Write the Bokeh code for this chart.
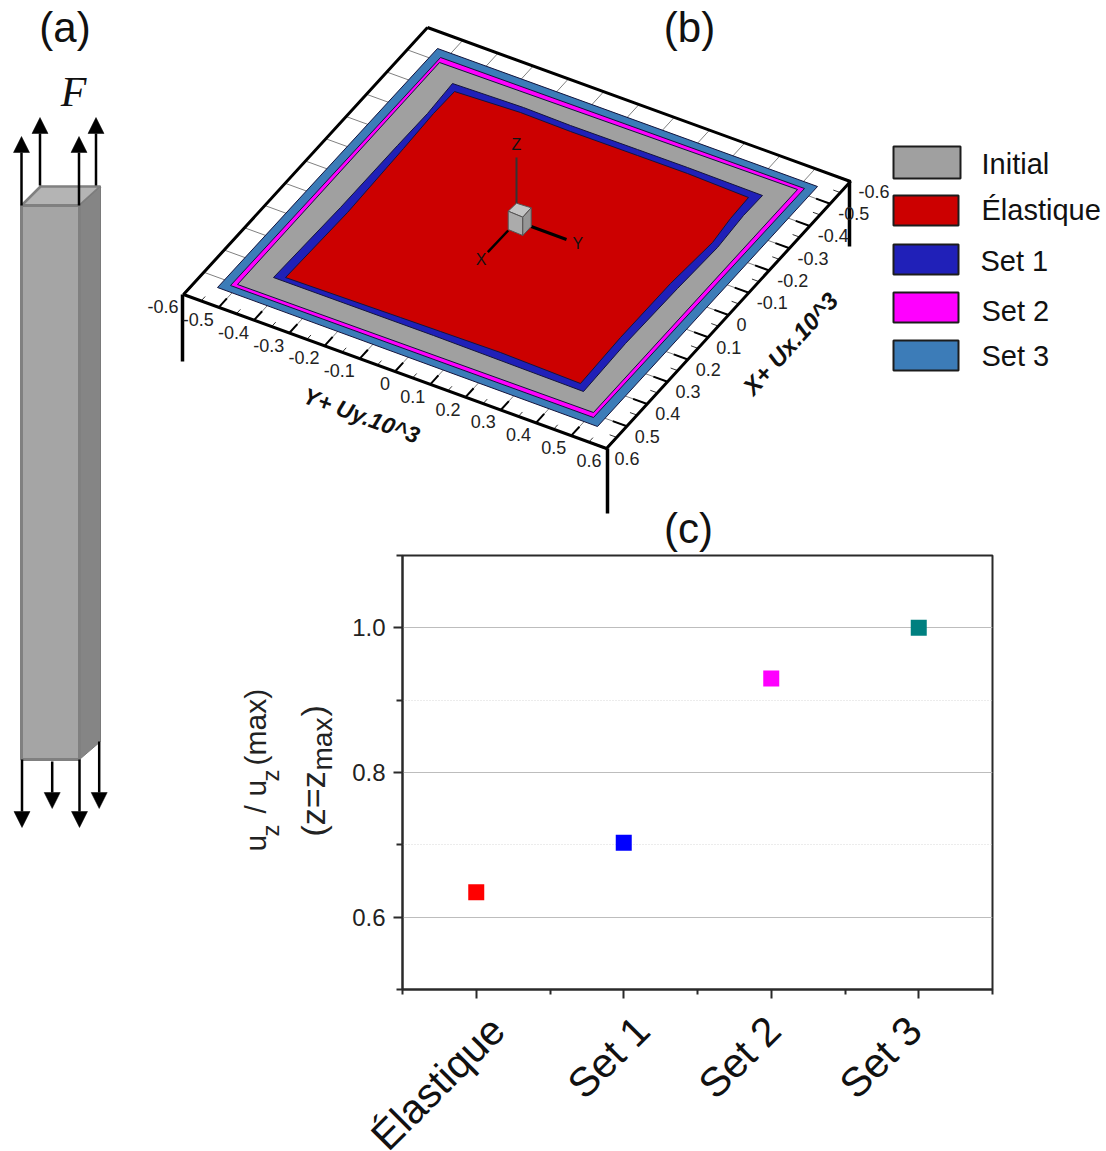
from bokeh.plotting import figure
from bokeh.models import Range1d, FixedTicker, NumeralTickFormatter
from bokeh.core.properties import value
from bokeh.embed import file_html
from bokeh.resources import INLINE

SANS = "Liberation Sans"

# ---------- panel (c) data ----------
categories = ["Élastique", "Set 1", "Set 2", "Set 3"]
cat_pos = [1, 2, 3, 4]
uz_ratio = [0.6345, 0.703, 0.93, 1.0]
marker_colors = ["#ff0000", "#0000ff", "#ff00ff", "#008080"]
y_major = [0.6, 0.8, 1.0]
y_minor = [0.5, 0.7, 0.9, 1.1]
x_minor = [0.5, 1.5, 2.5, 3.5, 4.5]
cat_label_x_px = [497, 642, 773, 914]
ylabel_pieces = [
    ("u", 268, 851, 30), ("z", 280, 836, 24), ("/", 268, 813, 30),
    ("u", 268, 796, 30), ("z", 280, 781, 24), ("(max)", 268, 765, 30),
    ("(z=z", 327, 836, 34), ("max", 334, 770, 28), (")", 327, 716, 34),
]

# ---------- panel (b) data ----------
tick_values = [-0.6, -0.5, -0.4, -0.3, -0.2, -0.1, 0, 0.1, 0.2, 0.3, 0.4, 0.5, 0.6]
tick_labels = ["-0.6", "-0.5", "-0.4", "-0.3", "-0.2", "-0.1", "0", "0.1", "0.2", "0.3", "0.4", "0.5", "0.6"]
minor_values = [-0.55, -0.45, -0.35, -0.25, -0.15, -0.05, 0.05, 0.15, 0.25, 0.35, 0.45, 0.55]
poly_names = ["Set 3", "Set 2", "Initial", "Set 1", "Élastique"]
poly_colors = ["#3c7cb8", "#ff00ff", "#a0a0a0", "#2020b8", "#cc0000"]
poly_x = [
    [217, 437, 817, 597],
    [230, 440, 804, 593],
    [237, 439, 797, 593],
    [273, 340, 397, 427, 452, 523, 570, 637, 687, 762, 743, 717, 677, 625, 583, 433],
    [285, 347, 403, 433, 454, 520, 570, 637, 687, 748, 730, 712, 670, 620, 580, 500, 440, 400],
]
poly_y = [
    [287, 48, 186, 426],
    [285, 57, 188, 417],
    [284, 62, 189, 412],
    [277, 207, 145, 113, 83, 107, 125, 149, 167, 195, 215, 247, 288, 343, 391, 335],
    [277, 212, 148, 113, 91, 112, 131, 155, 173, 197, 218, 242, 283, 337, 383, 352, 331, 317],
]
legend_names = ["Initial", "Élastique", "Set 1", "Set 2", "Set 3"]
legend_colors = ["#a0a0a0", "#cc0000", "#2020b8", "#ff00ff", "#3c7cb8"]

# projection of the floor (ux, uy in units of 10^-3) onto the picture
CX, CY = 516.5, 237.5
AX, AY = -203.3, 222.5
BX, BY = 352.5, 128.3
def px(ux, uy):
    return CX + AX * ux + BX * uy
def py(ux, uy):
    return CY + AY * ux + BY * uy

# page-wide figure in picture pixels: panels (a), (b) and all free-standing text
b = figure(width=1106, height=1151, x_range=Range1d(0, 1106), y_range=Range1d(1151, 0),
           output_backend="svg", toolbar_location=None, min_border=0)
b.axis.visible = False
b.grid.visible = False
b.outline_line_color = None
b.styles = {"position": "absolute", "left": "0px", "top": "0px"}

# ---------- panel (a) ----------
b.patch([21, 40, 100, 79], [205, 186, 186, 205], fill_color="#b4b4b4", line_color="#808080", line_width=2.5)
b.patch([79, 100, 100, 79], [205, 186, 741, 759], fill_color="#858585", line_color="#7a7a7a", line_width=1)
b.patch([21, 79, 79, 21], [205, 205, 759, 759], fill_color="#a5a5a5", line_color="#808080", line_width=3)

arrow_x = [21, 39.5, 78.5, 95.5, 21.5, 51.7, 79, 98.7]
arrow_from = [205, 185, 205, 185, 759, 761, 759, 741]
arrow_tip = [136, 117, 136, 117, 827, 808, 827, 808]
for x, s, t in zip(arrow_x, arrow_from, arrow_tip):
    d = 16 if t < s else -16
    b.line([x, x], [s, t + d], line_color="black", line_width=2.5)
    b.patch([x - 8, x, x + 8], [t + d, t, t + d], fill_color="black", line_color="black", line_width=0.5)
b.text([64.5], [27], text=["(a)"], text_font=value(SANS), text_font_size="42px",
       text_align="center", text_baseline="middle", text_color="#111111")
b.text([73], [91], text=["F"], text_font=value("Liberation Serif"), text_font_style="italic",
       text_font_size="42px", text_align="center", text_baseline="middle", text_color="#111111")

# ---------- panel (b) ----------
E = 0.6
b.segment([px(-E, v) for v in tick_values], [py(-E, v) for v in tick_values],
          [px(E, v) for v in tick_values], [py(E, v) for v in tick_values], line_color="#808080", line_width=1)
b.segment([px(v, -E) for v in tick_values], [py(v, -E) for v in tick_values],
          [px(v, E) for v in tick_values], [py(v, E) for v in tick_values], line_color="#808080", line_width=1)
b.segment([px(E, v) for v in tick_values], [py(E, v) for v in tick_values],
          [px(E - 0.04, v) for v in tick_values], [py(E - 0.04, v) for v in tick_values],
          line_color="black", line_width=2)
b.segment([px(v, E) for v in tick_values], [py(v, E) for v in tick_values],
          [px(v, E - 0.04) for v in tick_values], [py(v, E - 0.04) for v in tick_values],
          line_color="black", line_width=2)
b.segment([px(E, v) for v in minor_values], [py(E, v) for v in minor_values],
          [px(E - 0.02, v) for v in minor_values], [py(E - 0.02, v) for v in minor_values],
          line_color="#333333", line_width=1)
b.segment([px(v, E) for v in minor_values], [py(v, E) for v in minor_values],
          [px(v, E - 0.02) for v in minor_values], [py(v, E - 0.02) for v in minor_values],
          line_color="#333333", line_width=1)
for xs, ys, col in zip(poly_x, poly_y, poly_colors):
    b.patch(xs, ys, fill_color=col, line_color="#14143c", line_width=1)
b.line([px(-E, -E), px(-E, E), px(E, E), px(E, -E), px(-E, -E)],
       [py(-E, -E), py(-E, E), py(E, E), py(E, -E), py(-E, -E)], line_color="black", line_width=3)
b.line([182, 182], [294, 361], line_color="black", line_width=3.5)
b.line([607, 607], [448, 513], line_color="black", line_width=3.5)
b.line([849, 849], [181, 246], line_color="black", line_width=3.5)

b.text([px(E, v) - 5 for v in tick_values], [py(E, v) + 12 for v in tick_values], text=tick_labels,
       text_font=value(SANS), text_font_size="18px", text_align="right", text_baseline="middle", text_color="#222222")
b.text([px(v, E) + 8 for v in tick_values], [py(v, E) + 10 for v in tick_values], text=tick_labels,
       text_font=value(SANS), text_font_size="18px", text_align="left", text_baseline="middle", text_color="#222222")
b.text([361], [415], text=["Y+ Uy.10^3"], angle=[-20], angle_units="deg", text_font=value(SANS),
       text_font_style="bold italic", text_font_size="23px", text_align="center", text_baseline="middle", text_color="#111111")
b.text([790], [343], text=["X+ Ux.10^3"], angle=[47.8], angle_units="deg", text_font=value(SANS),
       text_font_style="bold italic", text_font_size="24px", text_align="center", text_baseline="middle", text_color="#111111")

# orientation triad
b.line([516, 516], [157, 203], line_color="#333333", line_width=2)
b.line([507.7, 487.3], [230, 251.7], line_color="black", line_width=2.5)
b.line([530.7, 566], [226, 239], line_color="black", line_width=3)
b.patch([507.7, 516, 530.7, 522.3], [210.7, 202.7, 207.3, 216.7], fill_color="#c4c4c4", line_color="#555555", line_width=1)
b.patch([507.7, 522.3, 522.3, 507.7], [210.7, 216.7, 235, 229], fill_color="#ababab", line_color="#555555", line_width=1)
b.patch([522.3, 530.7, 530.7, 522.3], [216.7, 207.3, 226, 235], fill_color="#969696", line_color="#555555", line_width=1)
b.text([516, 480.7, 577.3], [144, 259.3, 242.7], text=["Z", "X", "Y"], text_font=value(SANS),
       text_font_size="16px", text_align="center", text_baseline="middle", text_color="#111111")

# legend
legend_top = [146, 195, 244, 292, 340]
legend_bottom = [178, 225, 274, 322, 370]
legend_right = [960, 958, 958, 958, 958]
legend_tx = [981, 981, 980, 981, 981]
legend_ty = [163, 209, 260, 310, 355]
b.quad(left=[893] * 5, right=legend_right, top=legend_top, bottom=legend_bottom,
       fill_color=legend_colors, line_color="#1c1c1c", line_width=2)
b.text(legend_tx, legend_ty, text=legend_names, text_font=value(SANS), text_font_size="29px",
       text_align="left", text_baseline="middle", text_color="#111111")
b.text([689], [27], text=["(b)"], text_font=value(SANS), text_font_size="42px",
       text_align="center", text_baseline="middle", text_color="#111111")

# free-standing text of panel (c)
b.text(cat_label_x_px, [1023] * 4, text=categories, angle=[45] * 4, angle_units="deg",
       text_font=value(SANS), text_font_size="41px", text_align="right", text_baseline="middle", text_color="#111111")
for t, bx, by, fs in ylabel_pieces:
    b.text([bx - 0.42 * fs], [by], text=[t], angle=[90], angle_units="deg", text_font=value(SANS), text_font_size=f"{fs}px",
           text_align="left", text_baseline="alphabetic", text_color="#222222")
b.text([688], [528], text=["(c)"], text_font=value(SANS), text_font_size="42px",
       text_align="center", text_baseline="middle", text_color="#111111")

# ---------- panel (c) ----------
c = figure(width=706, height=500, x_range=Range1d(0.5, 4.5), y_range=Range1d(0.5, 1.1),
           output_backend="svg", toolbar_location=None,
           min_border_left=102, min_border_right=14, min_border_top=35, min_border_bottom=31)
c.styles = {"position": "absolute", "left": "300px", "top": "520px"}
c.border_fill_color = None
c.background_fill_color = None
c.outline_line_color = "#2a2a2a"
c.outline_line_width = 2
c.xgrid.visible = False
c.ygrid.ticker = FixedTicker(ticks=y_major, minor_ticks=y_minor)
c.ygrid.grid_line_color = "#bdbdbd"
c.ygrid.grid_line_width = 1
c.ygrid.minor_grid_line_color = "#d8d8d8"
c.ygrid.minor_grid_line_dash = "1 2"
c.yaxis.ticker = FixedTicker(ticks=y_major, minor_ticks=y_minor)
c.xaxis.ticker = FixedTicker(ticks=cat_pos, minor_ticks=x_minor)
c.xaxis.major_label_overrides = {k: "" for k in cat_pos}
for ax in (c.xaxis[0], c.yaxis[0]):
    ax.axis_line_color = "#2a2a2a"
    ax.axis_line_width = 2
    ax.major_tick_line_color = "#2a2a2a"
    ax.minor_tick_line_color = "#2a2a2a"
    ax.major_tick_line_width = 2
    ax.minor_tick_line_width = 2
    ax.major_tick_in = 0
    ax.minor_tick_in = 0
    ax.major_tick_out = 9
ax_x, ax_y = c.xaxis[0], c.yaxis[0]
ax_x.minor_tick_out = 5
ax_y.minor_tick_out = 6
ax_y.major_label_text_font = SANS
ax_y.major_label_text_font_size = "24px"
ax_y.major_label_text_color = "#222222"
ax_y.major_label_standoff = 8
ax_y.formatter = NumeralTickFormatter(format="0.0")
c.scatter(cat_pos, uz_ratio, marker="square", size=16, fill_color=marker_colors, line_color=marker_colors, line_width=0)

open("out.html", "w").write(file_html([b, c], INLINE))
